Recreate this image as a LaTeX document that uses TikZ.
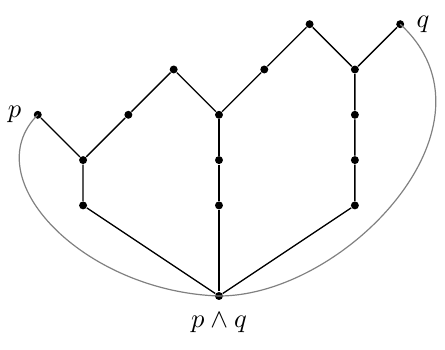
\documentclass[tikz,border=0pt]{standalone}
\usepackage{amsmath, amssymb}
\usetikzlibrary{positioning}

\begin{document}
\begin{tikzpicture}[x=0.6cm, y=0.6cm,
    pt/.style={circle, fill=black, inner sep=0pt, minimum size=3pt},
    edge/.style={line width=0.5pt},
    hull/.style={gray, line width=0.45pt}]
  \useasboundingbox (-4.834,-1.17) rectangle (4.989,6.534);

  % points of the lattice
  \node[pt, label={[label distance=1pt]left:$p$}] (p) at (-4,4) {};
  \node[pt] (a1) at (-3,3) {};
  \node[pt] (a2) at (-3,2) {};
  \node[pt] (b1) at (-2,4) {};
  \node[pt] (b2) at (-1,5) {};
  \node[pt] (c1) at (0,4) {};
  \node[pt] (c2) at (0,3) {};
  \node[pt] (c3) at (0,2) {};
  \node[pt, label={[label distance=1pt]below:$p\wedge q$}] (meet) at (0,0) {};
  \node[pt] (d1) at (1,5) {};
  \node[pt] (d2) at (2,6) {};
  \node[pt] (e1) at (3,5) {};
  \node[pt] (e2) at (3,4) {};
  \node[pt] (e3) at (3,3) {};
  \node[pt] (e4) at (3,2) {};
  \node[pt, label={[label distance=1pt]right:$q$}] (q) at (4,6) {};

  % edges
  \draw[edge] (p) -- (a1) -- (b1) -- (b2) -- (c1) -- (d1) -- (d2) -- (e1) -- (q);
  \draw[edge] (a1) -- (a2) -- (meet);
  \draw[edge] (c1) -- (c2) -- (c3) -- (meet);
  \draw[edge] (e1) -- (e2) -- (e3) -- (e4) -- (meet);

  % outer curve
  \draw[hull] (p.center) .. controls (-5.4,2.6) and (-3,0.1) .. (meet.center);
  \draw[hull] (meet.center) .. controls (2.8,0) and (6.4,3.8) .. (q.center);
\end{tikzpicture}
\end{document}
